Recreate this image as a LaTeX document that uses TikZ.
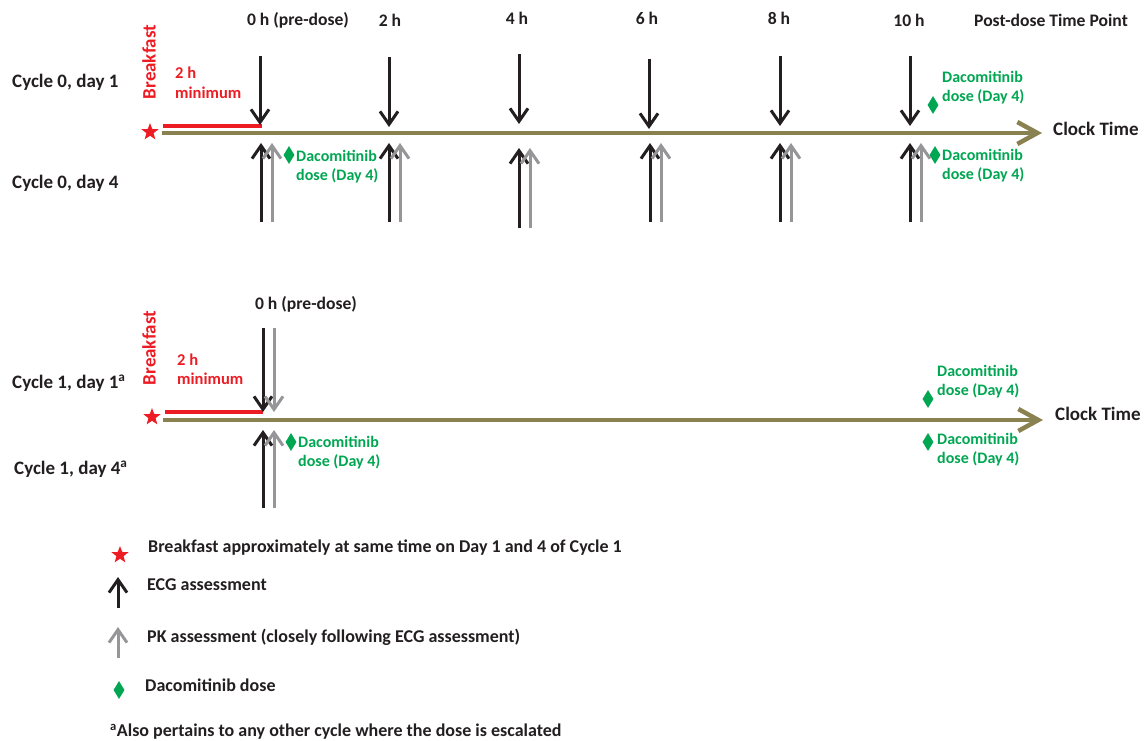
\documentclass[tikz,border=0pt]{standalone}
\usepackage{fontspec}
\setmainfont{Carlito}
\usetikzlibrary{arrows.meta,shapes.geometric}
\definecolor{ink}{RGB}{35,31,32}
\definecolor{olive}{RGB}{138,129,80}
\definecolor{redc}{RGB}{237,28,36}
\definecolor{greenc}{RGB}{0,166,81}
\definecolor{greyc}{RGB}{150,150,153}
\tikzset{
  txt/.style={text=ink, inner sep=0pt, font=\bfseries\fontsize{17.6}{20}\selectfont},
  big/.style={font=\bfseries\fontsize{19}{22}\selectfont},
  lgd/.style={txt, anchor=west, font=\bfseries\fontsize{18}{21}\selectfont},
  lft/.style={txt, big, anchor=west},
  redtxt/.style={txt, text=redc, anchor=west, font=\bfseries\fontsize{16.5}{19}\selectfont},
  greentxt/.style={txt, text=greenc, anchor=west, align=left, font=\bfseries\fontsize{16}{19}\selectfont},
  axisline/.style={draw=olive, line width=4.5pt, -{Straight Barb[length=20pt,width=22pt]}},
  redline/.style={draw=redc, line width=4.5pt},
  ecg/.style={draw=ink, line width=3pt, -{Straight Barb[length=13pt,width=18pt]}},
  pk/.style={draw=greyc, line width=3pt, -{Straight Barb[length=13pt,width=18pt]}},
  dose/.style={diamond, fill=greenc, inner sep=0pt, minimum width=11pt, minimum height=18pt},
  meal/.style={star, star points=5, star point ratio=2.4, fill=redc, inner sep=0pt, minimum size=18pt},
}
\begin{document}
\begin{tikzpicture}[x=1pt,y=-1pt]
\useasboundingbox (0,0) rectangle (1144,741);

% ---------- Cycle 0 ----------
\node[lft] (c0d1) at (12,82) {Cycle 0, day 1};
\node[lft] (c0d4) at (12,183) {Cycle 0, day 4};
\node[txt, big, text=redc, rotate=90] (bf0) at (149,62) {Breakfast};
\node[redtxt] (min0a) at (175,73) {2 h};
\node[redtxt] (min0b) at (175,93) {minimum};
\node[meal] (star0) at (150,132) {};

\coordinate (ax0s) at (162,133);
\coordinate (ax0e) at (1042,133);
\draw[axisline] (ax0s) -- (ax0e);
\node[txt, big, anchor=west] (clk0) at (1053,129) {Clock Time};

\coordinate (rd0s) at (163,126);
\coordinate (rd0e) at (262,126);
\draw[redline] (rd0s) -- (rd0e);

% time-point headers
\node[txt] (h0) at (298,20) {0 h (pre-dose)};
\node[txt] (h2) at (390,20) {2 h};
\node[txt] (h4) at (517,18) {4 h};
\node[txt] (h6) at (647,18) {6 h};
\node[txt] (h8) at (779,18) {8 h};
\node[txt] (h10) at (909,20) {10 h};
\node[txt] (hpost) at (1051,20) {Post-dose Time Point};

% day 1: ECG only, arrows from above
\foreach \n/\x/\a/\b in {0/260/56/125, 2/389/57/127, 4/519/54/124, 6/649/59/129, 8/780/56/126, 10/910/56/126}{
  \coordinate (dn\n a) at (\x,\a);
  \coordinate (dn\n b) at (\x,\b);
  \draw[ecg] (dn\n a) -- (dn\n b);
}
% day 4: ECG then PK, arrows from below
\foreach \n/\x/\a/\b in {0/261/222/143, 2/389/222/143, 4/519/228/148, 6/650/222/143, 8/780/222/143, 10/910/222/143}{
  \coordinate (ue\n a) at (\x,\a);
  \coordinate (ue\n b) at (\x,\b);
  \coordinate (up\n a) at (\x+11,\a);
  \coordinate (up\n b) at (\x+11,\b);
  \draw[ecg] (ue\n a) -- (ue\n b);
  \draw[pk] (up\n a) -- (up\n b);
}

\node[dose] (ds0a) at (289,155) {};
\node[greentxt] (dt0a) at (296,167) {Dacomitinib\\dose (Day 4)};
\node[dose] (ds0b) at (933,105) {};
\node[greentxt] (dt0b) at (942,88) {Dacomitinib\\dose (Day 4)};
\node[dose] (ds0c) at (935,155) {};
\node[greentxt] (dt0c) at (942,166) {Dacomitinib\\dose (Day 4)};

% ---------- Cycle 1 ----------
\node[lft] (c1d1) at (12,383) {Cycle 1, day 1\textsuperscript{a}};
\node[lft] (c1d4) at (14,469) {Cycle 1, day 4\textsuperscript{a}};
\node[txt, big, text=redc, rotate=90] (bf1) at (149,348) {Breakfast};
\node[redtxt] (min1a) at (177,360) {2 h};
\node[redtxt] (min1b) at (177,379) {minimum};
\node[meal] (star1) at (152,417) {};

\coordinate (ax1s) at (163,420);
\coordinate (ax1e) at (1043,420);
\draw[axisline] (ax1s) -- (ax1e);
\node[txt, big, anchor=west] (clk1) at (1055,414) {Clock Time};

\coordinate (rd1s) at (165,412);
\coordinate (rd1e) at (263,412);
\draw[redline] (rd1s) -- (rd1e);

\node[txt] (h1) at (306,304) {0 h (pre-dose)};

\coordinate (dn1a) at (263,328);
\coordinate (dn1b) at (263,412);
\coordinate (dp1a) at (274,328);
\coordinate (dp1b) at (274,412);
\draw[ecg] (dn1a) -- (dn1b);
\draw[pk] (dp1a) -- (dp1b);
\coordinate (ue1a) at (263,508);
\coordinate (ue1b) at (263,430);
\coordinate (up1a) at (274,508);
\coordinate (up1b) at (274,430);
\draw[ecg] (ue1a) -- (ue1b);
\draw[pk] (up1a) -- (up1b);

\node[dose] (ds1a) at (291,442) {};
\node[greentxt] (dt1a) at (298,453) {Dacomitinib\\dose (Day 4)};
\node[dose] (ds1b) at (928,399) {};
\node[greentxt] (dt1b) at (937,382) {Dacomitinib\\dose (Day 4)};
\node[dose] (ds1c) at (928,442) {};
\node[greentxt] (dt1c) at (937,450) {Dacomitinib\\dose (Day 4)};

% ---------- Legend ----------
\node[meal] (lgstar) at (120,555) {};
\node[lgd] (lgstart) at (148,548) {Breakfast approximately at same time on Day 1 and 4 of Cycle 1};
\coordinate (lgea) at (118,608);
\coordinate (lgeb) at (118,577);
\draw[ecg] (lgea) -- (lgeb);
\node[lgd] (lgecgt) at (147,585) {ECG assessment};
\coordinate (lgpa) at (118,658);
\coordinate (lgpb) at (118,627);
\draw[pk] (lgpa) -- (lgpb);
\node[lgd] (lgpkt) at (147,637) {PK assessment (closely following ECG assessment)};
\node[dose] (lgdose) at (119,690) {};
\node[lgd] (lgdoset) at (145,685) {Dacomitinib dose};
\node[lgd] (foot) at (110,732) {\textsuperscript{a}Also pertains to any other cycle where the dose is escalated};
\end{tikzpicture}
\end{document}
